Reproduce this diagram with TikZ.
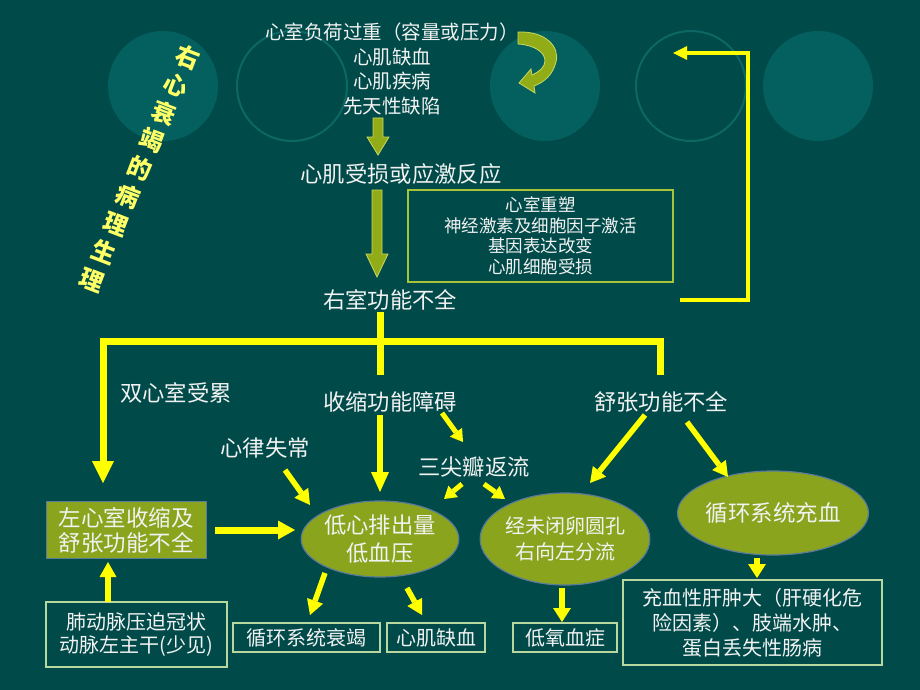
\documentclass[tikz,border=0pt]{standalone}
\usepackage{fontspec}
\setmainfont{Noto Sans CJK SC}
\usetikzlibrary{arrows.meta,calc,shapes.geometric}
\definecolor{bgc}{HTML}{004B49}
\definecolor{circf}{HTML}{04605F}
\definecolor{circl}{HTML}{0D6765}
\definecolor{txtc}{HTML}{F2F2F2}
\definecolor{ylw}{HTML}{FFFF00}
\definecolor{titlec}{HTML}{FFFF66}
\definecolor{olive}{HTML}{8AA41E}
\definecolor{ellc}{HTML}{5B7B9B}
\definecolor{mechc}{HTML}{A6C43A}
\definecolor{boxc}{HTML}{B8D8A0}
\definecolor{gfill}{HTML}{92AC18}
\definecolor{gline}{HTML}{C8D860}
\begin{document}
\begin{tikzpicture}[x=1pt,y=-1pt,
  txt/.style={text=txtc, inner sep=0pt, align=center},
  fA/.style={font=\fontsize{22.3}{27}\selectfont},
  fB/.style={font=\fontsize{20}{25}\selectfont},
  tch/.style={rotate=-21, text=titlec, inner sep=0pt, font=\bfseries\fontsize{24}{24}\selectfont},
  olivebox/.style={txt, rectangle, fill=olive, draw=ellc, line width=1pt},
  oell/.style={txt, ellipse, fill=olive, draw=ellc, line width=1.2pt},
  bbox/.style={txt, rectangle, draw=boxc, line width=1.3pt, fB},
  yar/.style={draw=ylw, line width=5.5pt, -{Triangle[width=17pt,length=15pt,line width=0pt]}},
  ysm/.style={draw=ylw, line width=5pt, -{Triangle[width=15pt,length=12pt,line width=0pt]}},
  ybig/.style={draw=ylw, line width=7pt, -{Triangle[width=20pt,length=20pt,line width=0pt]}},
  ythick/.style={draw=ylw, line width=7pt, line join=miter},
  garrow/.style={fill=gfill, draw=gline, line width=0.8pt, line join=miter}
]
\fill[bgc] (0,0) rectangle (920,690);
\useasboundingbox (0,0) rectangle (920,690);

% decorative circles
\fill[circf] (163,86) circle (55pt);
\draw[circl, line width=2pt] (292,86) circle (55pt);
\fill[circf] (545,86) circle (55pt);
\draw[circl, line width=2pt] (691,86) circle (55pt);
\fill[circf] (818,86) circle (55pt);

% title, one character per node along a tilted column
\foreach \c [count=\i from 0] in {右,心,衰,竭,的,病,理,生,理}
  \node[tch] (title\i) at ({188-12*\i},{57+27.9*\i}) {\c};

% top part
\node[txt, font=\fontsize{19.5}{24.5}\selectfont] (top) at (392,69)
  {心室负荷过重（容量或压力）\\心肌缺血\\心肌疾病\\先天性缺陷};
\filldraw[garrow] (518,32) .. controls (546,31) and (560,47) .. (556,62)
  .. controls (553,74) and (545,82) .. (534,86) -- (535,93) -- (519,83)
  -- (531,69) -- (532,75) .. controls (539,72) and (545,67) .. (545,61)
  .. controls (545,52) and (534,45) .. (518,44) -- cycle;

\node[txt, fA] (cmr) at (401,174) {心肌受损或应激反应};
\filldraw[garrow] (373,118) -- (383,118) -- (383,137) -- (389,137) -- (378,155)
  -- (367,137) -- (373,137) -- cycle;
\node[txt, draw=mechc, line width=1.2pt, minimum width=265pt, minimum height=92pt,
  font=\fontsize{17.5}{20.5}\selectfont] (mech) at (540.5,236)
  {心室重塑\\神经激素及细胞因子激活\\基因表达改变\\心肌细胞受损};
\filldraw[garrow] (372,190) -- (382,190) -- (382,254) -- (388,254) -- (377,277)
  -- (366,254) -- (372,254) -- cycle;
\node[txt, fA] (rvf) at (390,300) {右室功能不全};

% feedback loop
\coordinate (fb) at (673,53);
\draw[draw=ylw, line width=4pt, line join=miter,
  -{Triangle[width=14pt,length=14pt,line width=0pt]}]
  ($(rvf)+(290,0)$) -- ++(68,0) |- (fb);

% tree
\coordinate (jL) at (103,341);
\coordinate (jR) at (660,341);
\node[txt, fA] (bv) at (176,393) {双心室受累};
\node[txt, fA] (ss) at (390,402) {收缩功能障碍};
\node[txt, fA] (sz) at (661,402) {舒张功能不全};
\node[txt, fA] (xl) at (265,448) {心律失常};
\node[txt, fA] (tj) at (474,467) {三尖瓣返流};

\node[olivebox, minimum width=160pt, minimum height=57pt,
  font=\fontsize{22.5}{25}\selectfont] (lv) at (126,530) {左心室收缩及\\舒张功能不全};
\node[oell, minimum width=154pt, minimum height=76pt,
  font=\fontsize{22.3}{28}\selectfont] (low) at (380,539) {低心排出量\\低血压};
\node[oell, minimum width=146pt, minimum height=92pt,
  font=\fontsize{20}{26}\selectfont] (fo) at (565,539) {经未闭卵圆孔\\右向左分流};
\node[oell, minimum width=160pt, minimum height=84pt,
  font=\fontsize{22.5}{27}\selectfont] (cong) at (773,513) {循环系统充血};

\node[bbox, minimum width=181pt, minimum height=65pt,
  font=\fontsize{20}{23}\selectfont] (pa) at (136.5,634.5) {肺动脉压迫冠状\\动脉左主干(少见)};
\node[bbox, minimum width=147pt, minimum height=29pt] (cf) at (306.5,637.5) {循环系统衰竭};
\node[bbox, minimum width=98pt, minimum height=29pt] (mi) at (436,637.5) {心肌缺血};
\node[bbox, minimum width=104pt, minimum height=29pt] (hy) at (565,637.5) {低氧血症};
\node[bbox, minimum width=259pt, minimum height=85pt] (cg) at (752.5,622.5)
  {充血性肝肿大（肝硬化危\\险因素）、肢端水肿、\\蛋白丢失性肠病};

\draw[ythick] ($(rvf)+(-10,12)$) -- ($(ss)+(-10,-27)$);
\draw[ythick, {Triangle[width=22pt,length=22pt,line width=0pt]}-]
  ($(lv)+(-23,-47)$) -- (jL) -- (jR) -- ++(0,34);

% arrows
\draw[yar] ($(xl)+(20,22)$) -- ($(low)+(-70,-34)$);
\draw[ybig, -{Triangle[width=19pt,length=17pt,line width=0pt]}] ($(lv)+(89,0)$) -- ($(low)+(-85,-9)$);
\draw[yar, line width=6pt, -{Triangle[width=18pt,length=20pt,line width=0pt]}] ($(ss)+(-10,13)$) -- ($(low)+(0,-47)$);
\draw[ysm] ($(ss)+(52,11)$) -- ($(tj)+(-11,-25)$);
\draw[ysm] ($(tj)+(-12,17)$) -- ($(low)+(64,-40)$);
\draw[ysm] ($(tj)+(10,17)$) -- ($(fo)+(-60,-40)$);
\draw[yar] ($(sz)+(-16,13)$) -- ($(fo)+(25,-56)$);
\draw[yar] ($(sz)+(26,20)$) -- ($(cong)+(-45,-36)$);
\draw[yar, -{Triangle[width=18pt,length=14pt,line width=0pt]}] ($(cong)+(-16,45)$) -- ($(cg)+(4.5,-44.5)$);
\draw[yar, line width=6pt, -{Triangle[width=18pt,length=14pt,line width=0pt]}] ($(fo)+(-3,49)$) -- ($(hy)+(-3,-15.5)$);
\draw[yar] ($(low)+(-55,34)$) -- ($(cf)+(3.5,-22.5)$);
\draw[yar] ($(low)+(27,49)$) -- ($(mi)+(-14,-22.5)$);
\draw[yar] ($(pa)+(-28.5,-32.5)$) -- ($(lv)+(-18,32)$);
\end{tikzpicture}
\end{document}
